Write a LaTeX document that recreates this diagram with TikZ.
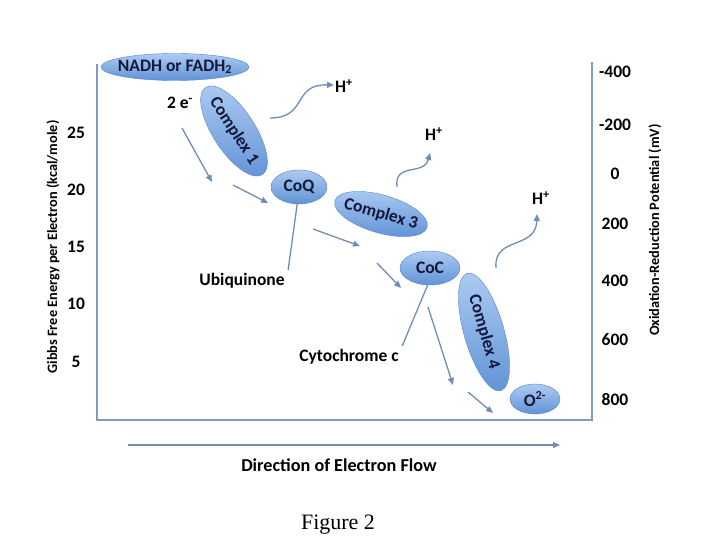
\documentclass[tikz,border=0pt]{standalone}
\usepackage{fontspec}
\setmainfont{Carlito}
\newfontfamily\capfont{Liberation Serif}
\usetikzlibrary{shapes.geometric}
\usetikzlibrary{arrows.meta}

\definecolor{axisblue}{HTML}{7F9CC0}
\definecolor{flowblue}{HTML}{6F8DB5}
\definecolor{lightblue}{HTML}{ADCBF2}
\definecolor{deepblue}{HTML}{6193D6}
\definecolor{edgeblue}{HTML}{5584C4}
\definecolor{inkblue}{HTML}{14183A}

\tikzset{
  carrier/.style={ellipse, draw=edgeblue, thin, top color=lightblue, bottom color=deepblue, inner sep=-12pt, text=inkblue, font=\bfseries\fontsize{17.5}{17.5}\selectfont},
  lbl/.style={font=\bfseries\fontsize{17.5}{17.5}\selectfont},
  axlbl/.style={font=\bfseries\fontsize{14.3}{14.3}\selectfont, rotate=90},
  flow/.style={flowblue, line width=1.3pt, -{Triangle[length=7pt,width=6pt]}},
  axis/.style={axisblue, line width=2pt}
}

\begin{document}
\begin{tikzpicture}[x=1pt, y=-1pt]
\useasboundingbox (0,0) rectangle (720,540);

\coordinate (lt) at (97,64);
\coordinate (lb) at (97,420);
\coordinate (rb) at (592,420);
\coordinate (rt) at (592,62);

\draw[axis] (lt) -- (lb) -- (rb) -- (rt);

\node[lbl] (g25) at (76,133) {25};
\node[lbl] (g20) at (76,190) {20};
\node[lbl] (g15) at (76,247) {15};
\node[lbl] (g10) at (76,304) {10};
\node[lbl] (g5) at (76,362) {5};
\node[axlbl] (gibbs) at (53,247) {Gibbs Free Energy per Electron (kcal/mole)};

\node[lbl] (p1) at (615,72) {-400};
\node[lbl] (p2) at (615,125) {-200};
\node[lbl] (p3) at (615,174) {0};
\node[lbl] (p4) at (615,224) {200};
\node[lbl] (p5) at (615,281) {400};
\node[lbl] (p6) at (615,340) {600};
\node[lbl] (p7) at (615,400) {800};
\node[axlbl] (redox) at (655,230) {Oxidation-Reduction Potential (mV)};

\node[carrier, minimum width=148, minimum height=27] (nadh) at (175,67) {NADH or FADH\textsubscript{2}};
\node[carrier, minimum width=104, minimum height=42, rotate=-57] (c1) at (234,131) {Complex 1};
\node[carrier, minimum width=56, minimum height=34] (coq) at (299,187) {CoQ};
\node[carrier, minimum width=96, minimum height=38, rotate=-16] (c3) at (381,214) {Complex 3};
\node[carrier, minimum width=60, minimum height=34] (coc) at (430,268) {CoC};
\node[carrier, minimum width=122, minimum height=40, rotate=-74] (c4) at (484,332) {Complex 4};
\node[carrier, minimum width=50, minimum height=30] (oxy) at (535,399) {O\textsuperscript{2-}};

\node[lbl] (elec) at (180,103) {2 e\textsuperscript{-}};
\node[lbl] (ubq) at (242,281) {Ubiquinone};
\node[lbl] (cytc) at (349,357) {Cytochrome c};
\node[lbl] (h1) at (344,86) {H\textsuperscript{+}};
\node[lbl] (h3) at (434,134) {H\textsuperscript{+}};
\node[lbl] (h4) at (541,198) {H\textsuperscript{+}};

\coordinate (a1s) at (182,128);
\coordinate (a1e) at (212,182);
\coordinate (a2s) at (233,185);
\coordinate (a2e) at (268,203);
\coordinate (a3s) at (313,229);
\coordinate (a3e) at (360,246);
\coordinate (a4s) at (377,263);
\coordinate (a4e) at (401,288);
\coordinate (a5s) at (428,307);
\coordinate (a5e) at (453,385);
\coordinate (a6s) at (468,392);
\coordinate (a6e) at (493,413);

\draw[flow] (a1s) -- (a1e);
\draw[flow] (a2s) -- (a2e);
\draw[flow] (a3s) -- (a3e);
\draw[flow] (a4s) -- (a4e);
\draw[flow] (a5s) -- (a5e);
\draw[flow] (a6s) -- (a6e);

\coordinate (w1s) at (270,118);
\coordinate (w1e) at (334,85);
\coordinate (w3s) at (397,187);
\coordinate (w3e) at (430,153);
\coordinate (w4s) at (496,268);
\coordinate (w4e) at (537,214);

\draw[flow] (w1s) .. controls (308,118) and (292,84) .. (w1e);
\draw[flow] (w3s) .. controls (394,162) and (424,176) .. (w3e);
\draw[flow] (w4s) .. controls (493,236) and (536,250) .. (w4e);

\draw[flowblue, line width=1.3pt] (coq.264) -- (ubq.north east);
\draw[flowblue, line width=1.3pt] (coc.262) -- (cytc.north east);

\coordinate (ds) at (128,445);
\coordinate (de) at (560,445);
\draw[flow] (ds) -- (de);
\node[font=\bfseries\fontsize{18.2}{18.2}\selectfont] (dir) at (339,465) {Direction of Electron Flow};

\node[font=\capfont\fontsize{22}{22}\selectfont] (fig) at (338,525) {Figure 2};

\end{tikzpicture}
\end{document}
